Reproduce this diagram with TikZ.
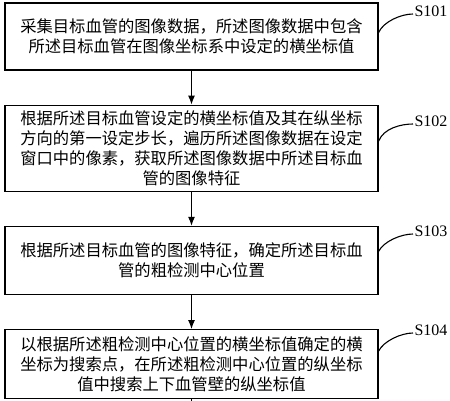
\documentclass[tikz,border=0pt]{standalone}
\usepackage{fontspec}
\setmainfont{Liberation Serif}
\newfontfamily\cjk{Noto Sans CJK SC}
\usetikzlibrary{arrows.meta,positioning}

\begin{document}
\begin{tikzpicture}[x=1pt,y=-1pt,node distance=34pt,
    stepbox/.style={draw,line width=1.2pt,minimum width=373pt,inner sep=2pt,align=center,font=\cjk\fontsize{16.3}{20}\selectfont},
    steplabel/.style={font=\fontsize{16}{18}\selectfont,inner sep=1pt},
    every path/.style={line width=1.1pt}]
  \useasboundingbox (0,0) rectangle (450,400);
  \node[stepbox,minimum height=67pt] (b1) at (191.5,36.5) {采集目标血管的图像数据，所述图像数据中包含\\所述目标血管在图像坐标系中设定的横坐标值};
  \node[stepbox,minimum height=86pt,below=of b1] (b2) {根据所述目标血管设定的横坐标值及其在纵坐标\\方向的第一设定步长，遍历所述图像数据在设定\\窗口中的像素，获取所述图像数据中所述目标血\\管的图像特征};
  \node[stepbox,minimum height=68pt,below=of b2] (b3) {根据所述目标血管的图像特征，确定所述目标血\\管的粗检测中心位置};
  \node[stepbox,minimum height=69pt,below=of b3] (b4) {以根据所述粗检测中心位置的横坐标值确定的横\\坐标为搜索点，在所述粗检测中心位置的纵坐标\\值中搜索上下血管壁的纵坐标值};
  \coordinate[below=6pt of b4] (end);
  % step labels
  \node[steplabel] (l1) at (431,11) {S101};
  \node[steplabel] (l2) at (431,121) {S102};
  \node[steplabel] (l3) at (431,231) {S103};
  \node[steplabel] (l4) at (431,330) {S104};
  \draw ([yshift=4pt]b1.east) .. controls +(5,-11) and +(-12,0) .. ([yshift=-3pt]l1.west);
  \draw ([yshift=7pt]b2.east) .. controls +(5,-13) and +(-12,0) .. ([yshift=-3pt]l2.west);
  \draw ([yshift=9pt]b3.east) .. controls +(5,-10) and +(-12,0) .. ([yshift=-3pt]l3.west);
  \draw ([yshift=13pt]b4.east) .. controls +(5,-10) and +(-12,0) .. ([yshift=-3pt]l4.west);
  % flow
  \draw[-{Latex[length=9pt,width=7pt]}] (b1) -- (b2);
  \draw[-{Latex[length=9pt,width=7pt]}] (b2) -- (b3);
  \draw[-{Latex[length=9pt,width=7pt]}] (b3) -- (b4);
  \draw (b4) -- (end);
\end{tikzpicture}
\end{document}
